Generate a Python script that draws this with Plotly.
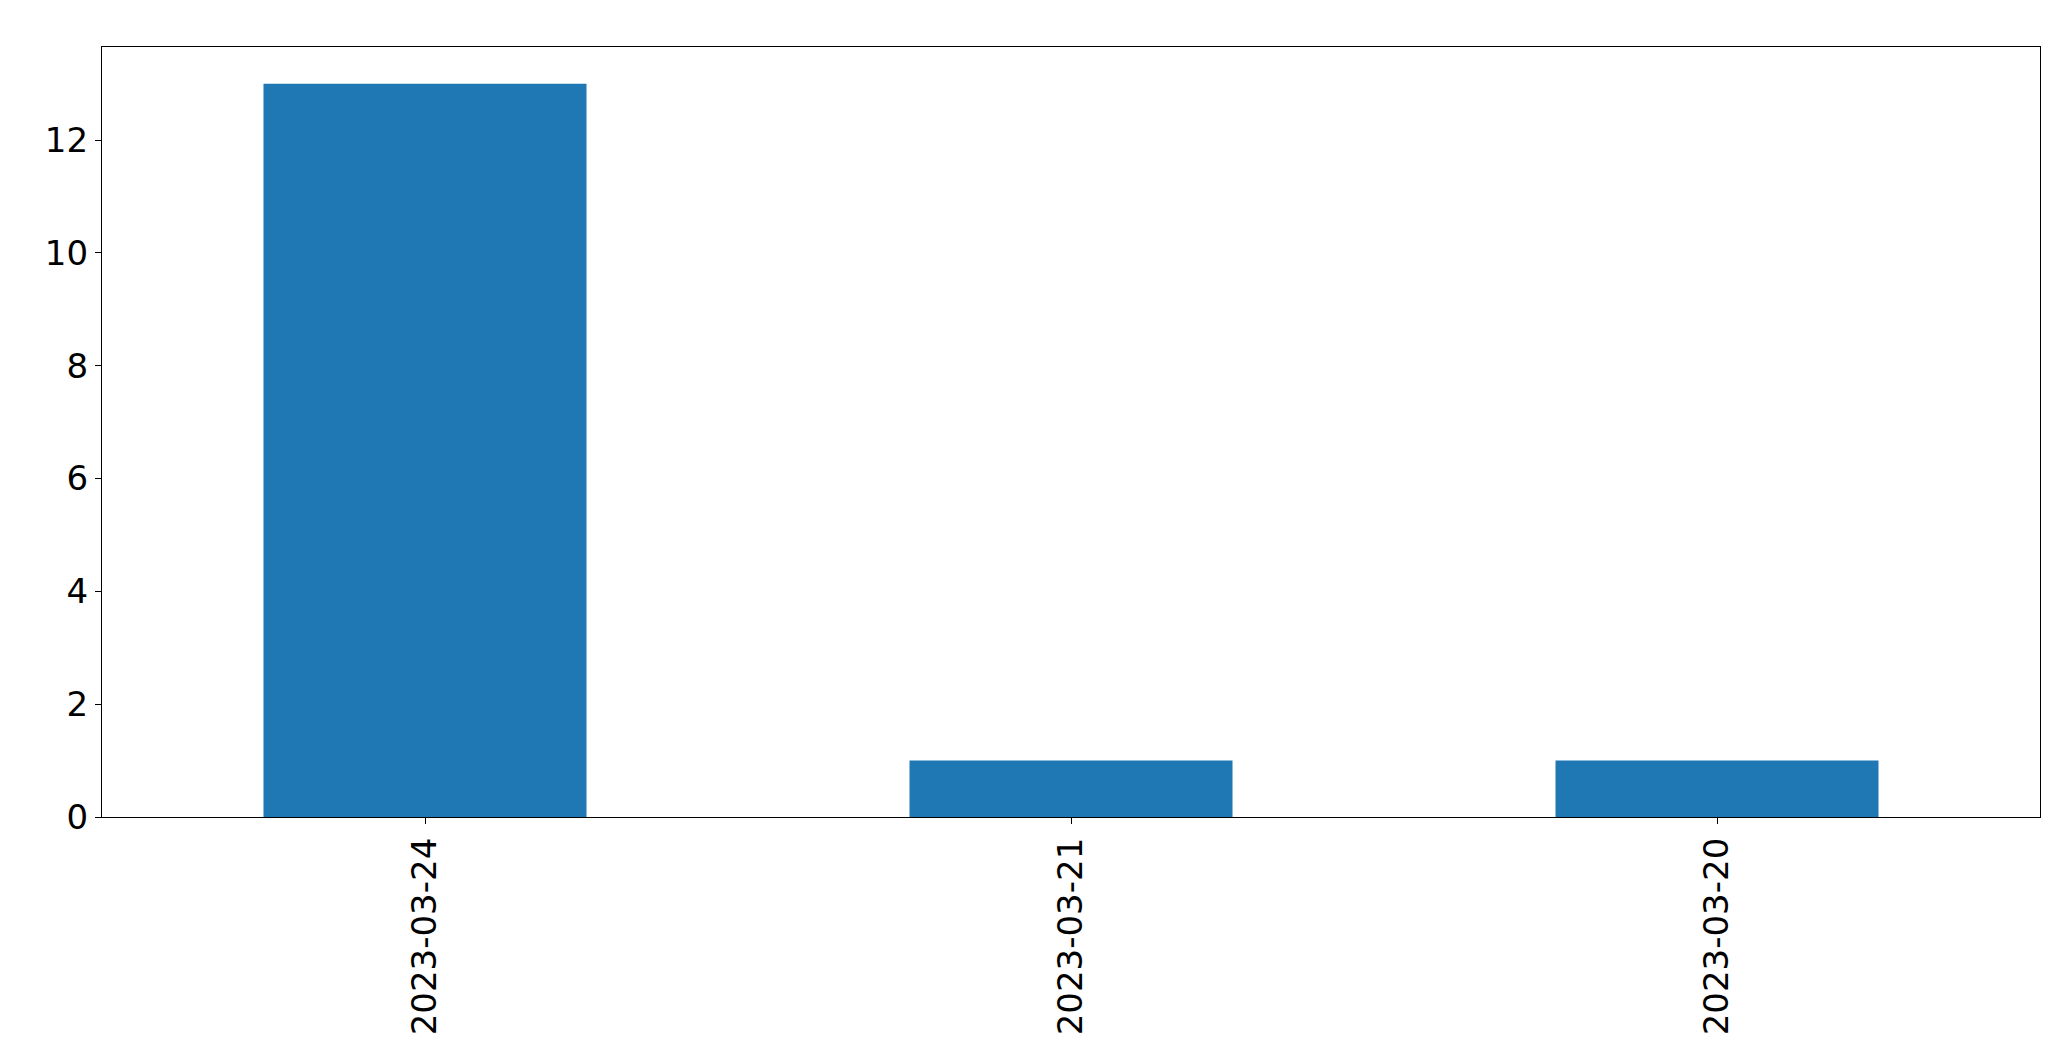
import plotly.graph_objects as go

# counts per date (pandas value_counts order)
dates = ["2023-03-24", "2023-03-21", "2023-03-20"]
counts = [13, 1, 1]
y_ticks = [0, 2, 4, 6, 8, 10, 12]

fig = go.Figure(data=[go.Bar(x=dates, y=counts, width=0.5, marker_color="#1f77b4",
                             marker_line_width=0)])

fig.update_layout(
    width=2071, height=1061,
    margin=dict(l=94, r=39, t=39, b=252, pad=0),
    plot_bgcolor="white", paper_bgcolor="white",
    font=dict(family="DejaVu Sans", size=34, color="black"),
    showlegend=False,
)
fig.update_xaxes(type="category", range=[-0.5, 2.5], tickangle=-90, automargin=False,
                 showline=True, linecolor="black", linewidth=1.3, mirror=True,
                 ticks="outside", ticklen=6, tickcolor="black", showgrid=False)
fig.update_yaxes(range=[0, 13.65], tickvals=y_ticks, automargin=False,
                 showline=True, linecolor="black", linewidth=1.3, mirror=True,
                 ticks="outside", ticklen=6, tickcolor="black", showgrid=False,
                 zeroline=False)

fig.write_html("out.html")
